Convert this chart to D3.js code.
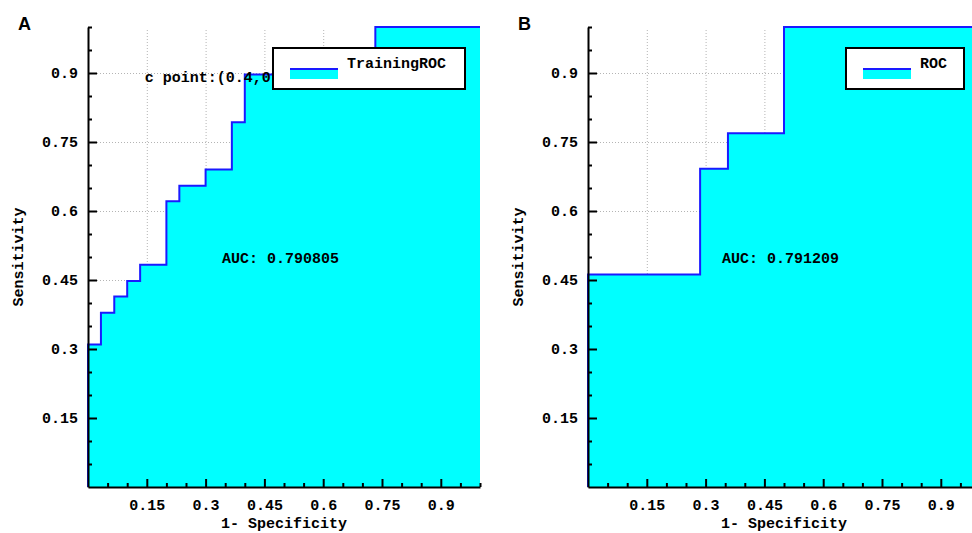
<!DOCTYPE html>
<html lang="en">
	<head>
		<meta charset="utf-8">
		<title>ROC curves</title>
		<script type="text/javascript" src="https://cdn.jsdelivr.net/npm/d3@7"></script>
		<style>
			body { margin: 0; background: #fff; }
			text { font-family: "Liberation Mono", monospace; font-weight: bold; fill: #000; }
			.grid line { stroke: #b4b4b4; stroke-dasharray: 1,2; }
			.grid path { display: none; }
			.axis path, .axis line { stroke: #000; stroke-width: 2; }
			.panel { font-family: "Liberation Sans", Arial, sans-serif; font-size: 18px; }
		</style>
	</head>
	<body>
		<div id="grafica"></div>
		<script type="text/javascript">

			// tick values shared by both panels
			var majorTicks = [0.15, 0.3, 0.45, 0.6, 0.75, 0.9];
			var minorTicks = [0.05, 0.1, 0.2, 0.25, 0.35, 0.4, 0.5, 0.55, 0.65, 0.7, 0.8, 0.85, 0.95, 1];

			// panel A: training ROC (1-specificity, sensitivity)
			var fprA  = [0, 0,    0.033, 0.067, 0.1,   0.133, 0.2,   0.233, 0.3,  0.367, 0.4,   0.733, 1];
			var sensA = [0, 0.31, 0.379, 0.414, 0.448, 0.483, 0.621, 0.655, 0.69, 0.793, 0.897, 1,     1];

			// panel B: ROC
			var fprB  = [0, 0,     0.286, 0.357, 0.5, 1];
			var sensB = [0, 0.462, 0.692, 0.769, 1,   1];

			var w = 972;
			var h = 533;

			var svg = d3.select("#grafica")
						.append("svg")
						.attr("width", w)
						.attr("height", h);

			var fmt = function(d){ return String(d); };

			function drawPanel(opts){
				var x = d3.scaleLinear().domain([0, 1]).range([opts.left, opts.left + 392]);
				var y = d3.scaleLinear().domain([0, 1]).range([487, 27]);

				var g = svg.append("g");

				// dotted grid (sits under the filled area)
				g.append("g")
					.attr("class", "grid")
					.attr("transform", "translate(0,487)")
					.call(d3.axisBottom(x).tickValues(majorTicks).tickSize(-457).tickFormat(""));
				g.append("g")
					.attr("class", "grid")
					.attr("transform", "translate(" + opts.left + ",0)")
					.call(d3.axisLeft(y).tickValues(majorTicks).tickSize(-392).tickFormat(""));

				var pts = opts.fpr.map(function(d, i){ return [d, opts.sens[i]]; });

				var area = d3.area()
							.curve(d3.curveStepAfter)
							.x(function(d){ return x(d[0]); })
							.y0(y(0))
							.y1(function(d){ return y(d[1]); });

				var line = d3.line()
							.curve(d3.curveStepAfter)
							.x(function(d){ return x(d[0]); })
							.y(function(d){ return y(d[1]); });

				g.append("path")
					.attr("d", area(pts))
					.attr("fill", "#00ffff");

				g.append("path")
					.attr("d", line(pts))
					.attr("fill", "none")
					.attr("stroke", "#1a1aff")
					.attr("stroke-width", 2);

				// axes, ticks pointing inward
				var xAxis = g.append("g")
					.attr("class", "axis")
					.attr("transform", "translate(0,487)");
				xAxis.call(d3.axisBottom(x).tickValues(majorTicks).tickFormat(fmt).tickSizeInner(-8).tickSizeOuter(0).tickPadding(12));
				xAxis.selectAll("text").style("font-size", "15px");

				g.append("g")
					.attr("class", "axis")
					.attr("transform", "translate(0,487)")
					.call(d3.axisBottom(x).tickValues(minorTicks).tickSizeInner(-4).tickSizeOuter(0).tickFormat(""))
					.select(".domain").remove();

				var yAxis = g.append("g")
					.attr("class", "axis")
					.attr("transform", "translate(" + opts.left + ",0)");
				yAxis.call(d3.axisLeft(y).tickValues(majorTicks).tickFormat(fmt).tickSizeInner(-9).tickSizeOuter(0).tickPadding(10));
				yAxis.selectAll("text").style("font-size", "15px");

				g.append("g")
					.attr("class", "axis")
					.attr("transform", "translate(" + opts.left + ",0)")
					.call(d3.axisLeft(y).tickValues(minorTicks).tickSizeInner(-4).tickSizeOuter(0).tickFormat(""))
					.select(".domain").remove();

				// axis titles
				g.append("text")
					.attr("x", x(0.5))
					.attr("y", 528)
					.attr("text-anchor", "middle")
					.style("font-size", "15px")
					.text("1- Specificity");

				g.append("text")
					.attr("transform", "translate(" + (opts.left - 65) + "," + y(0.5) + ") rotate(-90)")
					.attr("text-anchor", "middle")
					.style("font-size", "15px")
					.text("Sensitivity");

				// panel letter
				g.append("text")
					.attr("class", "panel")
					.attr("x", opts.left - 70)
					.attr("y", 30)
					.text(opts.letter);

				// annotations
				opts.notes.forEach(function(n){
					g.append("text")
						.attr("x", x(n.x))
						.attr("y", y(n.y))
						.style("font-size", "15px")
						.text(n.text);
				});

				// legend
				var lg = g.append("g").attr("transform", "translate(" + opts.legendX + ",48)");
				lg.append("rect")
					.attr("width", opts.legendW)
					.attr("height", 41)
					.attr("fill", "#fff")
					.attr("stroke", "#000")
					.attr("stroke-width", 2);
				lg.append("rect")
					.attr("x", 17)
					.attr("y", 21)
					.attr("width", 48)
					.attr("height", 10)
					.attr("fill", "#00ffff");
				lg.append("line")
					.attr("x1", 17)
					.attr("x2", 65)
					.attr("y1", 21)
					.attr("y2", 21)
					.attr("stroke", "#1a1aff")
					.attr("stroke-width", 2);
				lg.append("text")
					.attr("x", opts.legendTextX)
					.attr("y", 20)
					.style("font-size", "15px")
					.text(opts.legendLabel);
			}

			drawPanel({
				left: 88,
				letter: "A",
				fpr: fprA,
				sens: sensA,
				notes: [
					{x: 0.342, y: 0.487, text: "AUC: 0.790805"},
					{x: 0.145, y: 0.88, text: "c point:(0.4,0.896552)"}
				],
				legendX: 273,
				legendW: 192,
				legendTextX: 74,
				legendLabel: "TrainingROC"
			});

			drawPanel({
				left: 588,
				letter: "B",
				fpr: fprB,
				sens: sensB,
				notes: [
					{x: 0.342, y: 0.487, text: "AUC: 0.791209"}
				],
				legendX: 846,
				legendW: 118,
				legendTextX: 74,
				legendLabel: "ROC"
			});

		</script>
	</body>
</html>
